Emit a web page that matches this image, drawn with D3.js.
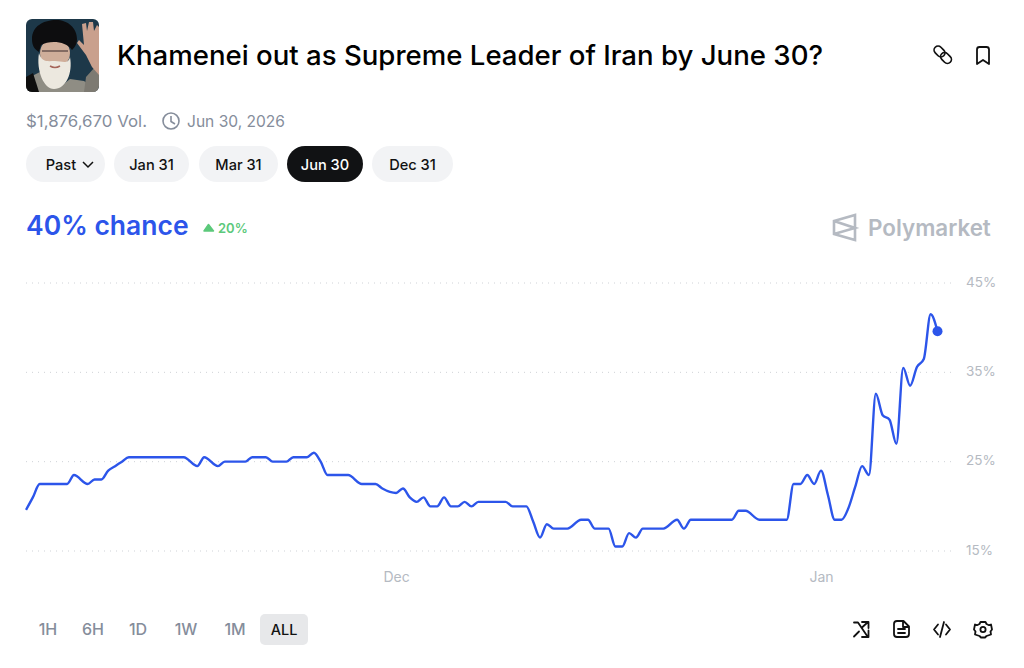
<!DOCTYPE html>
<html>
<head>
<meta charset="utf-8">
<script src="https://cdnjs.cloudflare.com/ajax/libs/d3/7.9.0/d3.min.js"></script>
<style>
  html, body { margin: 0; padding: 0; background: #fff; }
  svg { display: block; font-family: Inter, "Noto Sans", sans-serif; }
</style>
</head>
<body>
<div id="chart"></div>
<script>
"use strict";
// days counted from Dec 1
const days = [-27, -26.5, -26, -24, -23.5, -22.5, -22, -21.5, -21, -20.5, -20, -19.5, -15.5, -14.5, -14, -13, -12.5, -11, -10.5, -9.5, -9, -8, -7.5, -6.5, -6, -5.5, -5, -4, -3.5, -2.5, -1.5, -1, 0, 0.5, 1, 1.5, 2, 2.5, 3, 3.5, 4, 4.5, 5, 5.5, 6, 8, 8.5, 9.5, 10, 10.5, 11, 11.5, 12.5, 13.5, 14, 14.5, 15.5, 16, 16.5, 17, 17.5, 18, 19.5, 20.5, 21, 21.5, 24.5, 25, 25.5, 26.5, 28.5, 29, 29.5, 30, 30.5, 31, 31.5, 32, 32.5, 33, 33.5, 34, 34.5, 35, 35.5, 36, 36.5, 37, 37.5, 38, 38.5, 39, 39.5];
const chance = [19.6, 21, 22.5, 22.5, 23.5, 22.5, 23, 23, 24, 24.5, 25, 25.5, 25.5, 24.5, 25.5, 24.5, 25, 25, 25.5, 25.5, 25, 25, 25.5, 25.5, 26, 25, 23.5, 23.5, 23.5, 22.5, 22.5, 22, 21.5, 22, 21, 20.5, 21, 20, 20, 21, 20, 20, 20.5, 20, 20.5, 20.5, 20, 20, 18.3, 16.5, 18, 17.5, 17.5, 18.5, 18.5, 17.5, 17.5, 15.5, 15.5, 17, 16.5, 17.5, 17.5, 18.5, 17.5, 18.5, 18.5, 19.5, 19.5, 18.5, 18.5, 22.5, 22.5, 23.5, 22.5, 24, 21.3, 18.5, 18.5, 19.8, 22.2, 24.5, 23.5, 32.6, 30.2, 29.7, 27, 35.5, 33.5, 35.6, 36.5, 41.5, 39.6];
const yTicks = [15, 25, 35, 45];
const xTicks = [0, 31];
const xTickLabels = ["Dec", "Jan"];
const pills = ["Past", "Jan 31", "Mar 31", "Jun 30", "Dec 31"];
const pillEdges = [[26, 105], [114, 189], [199, 278], [287, 363], [372, 453]];
const ranges = ["1H", "6H", "1D", "1W", "1M", "ALL"];
const rangeCenters = [48, 93, 138, 186, 235, 284];

const width = 1024, height = 668;
const blue = "#2c55ea", grey = "#858d9b", light = "#b5bac2";

const svg = d3.select("#chart").append("svg")
    .attr("width", width)
    .attr("height", height)
    .attr("viewBox", [0, 0, width, height]);

// scales: Dec at 396, Jan at 821
const x = d3.scaleLinear().domain([-27, 39.5]).range([26, 937.5]);
const y = d3.scaleLinear().domain([15, 45]).range([551, 283]);

// avatar, there is no photo here so it is drawn from shapes
const avatar = svg.append("g").attr("transform", "translate(26,19)");
svg.append("clipPath").attr("id", "av").append("rect")
    .attr("width", 73).attr("height", 73).attr("rx", 6);
const av = avatar.append("g").attr("clip-path", "url(#av)");
av.append("rect").attr("width", 73).attr("height", 73).attr("fill", "#1d3849");
av.append("path").attr("d", "M0 73V62L8 56L16 52L24 68L34 68L44 60L58 62L73 73Z").attr("fill", "#8f8d84");
av.append("path").attr("d", "M0 73V58L7 54L13 73Z").attr("fill", "#0e0e0e");
av.append("path").attr("d", "M60 58L69 48L73 52V73H58Z").attr("fill", "#7d7a72");
av.append("ellipse").attr("cx", 29).attr("cy", 34).attr("rx", 15).attr("ry", 15).attr("fill", "#cfae9a");
av.append("path").attr("d", "M13 34C10 52 18 70 28 70C40 70 47 54 44 38C42 46 36 42 29 42C22 42 16 44 13 34Z").attr("fill", "#ece8df");
av.append("path").attr("d", "M6 20C6 7 18 1 30 1C42 1 51 9 51 20C51 26 48 29 46 31C40 22 24 21 15 26L13 33C8 30 6 26 6 20Z").attr("fill", "#0d0d0f");
av.append("path").attr("d", "M16 32H27M31 32H42M27 32H31").attr("stroke", "#6b5650").attr("stroke-width", 1.6);
av.append("path").attr("d", "M24 47Q29 50 34 47").attr("stroke", "#a5655a").attr("stroke-width", 1.5).attr("fill", "none");
av.append("path").attr("d", "M56 5L60 4L61 12L63 3L67 3L68 12L71 6L73 8V56L66 48L60 36L51 24L53 21L58 26Z").attr("fill", "#c9a08d");

// title and meta row
svg.append("text").attr("x", 117).attr("y", 65)
    .attr("font-size", 27).attr("font-weight", 500).attr("fill", "#000")
    .attr("textLength", 706).attr("lengthAdjust", "spacingAndGlyphs")
    .text("Khamenei out as Supreme Leader of Iran by June 30?");
svg.append("text").attr("x", 26).attr("y", 126.5)
    .attr("font-size", 16.5).attr("fill", grey)
    .attr("textLength", 121).attr("lengthAdjust", "spacingAndGlyphs").text("$1,876,670 Vol.");
const clock = svg.append("g").attr("fill", "none").attr("stroke", grey).attr("stroke-width", 1.6);
clock.append("circle").attr("cx", 171).attr("cy", 121).attr("r", 8);
clock.append("path").attr("d", "M171 116V121.5L175 124");
svg.append("text").attr("x", 187).attr("y", 126.5)
    .attr("font-size", 16.5).attr("fill", grey)
    .attr("textLength", 98).attr("lengthAdjust", "spacingAndGlyphs").text("Jun 30, 2026");

// link + bookmark
svg.append("g").attr("fill", "none").attr("stroke", "#111").attr("stroke-width", 1.7)
  .selectAll("rect").data([[933.5, 47.5], [940, 54]]).join("rect")
    .attr("x", d => d[0]).attr("y", d => d[1])
    .attr("width", 12).attr("height", 8).attr("rx", 4)
    .attr("transform", d => `rotate(45 ${d[0] + 6} ${d[1] + 4})`);
svg.append("path").attr("d", "M977 49.5Q977 47 979.5 47H986.5Q989 47 989 49.5V64L983 60L977 64Z")
    .attr("fill", "none").attr("stroke", "#111").attr("stroke-width", 1.8).attr("stroke-linejoin", "round");

// market pills
const pill = svg.append("g").selectAll("g").data(pills).join("g");
pill.append("rect")
    .attr("x", (d, i) => pillEdges[i][0])
    .attr("y", 146)
    .attr("width", (d, i) => pillEdges[i][1] - pillEdges[i][0])
    .attr("height", 36).attr("rx", 18)
    .attr("fill", d => d === "Jun 30" ? "#111214" : "#f2f3f5");
pill.append("text")
    .attr("x", (d, i) => d === "Past" ? 61 : (pillEdges[i][0] + pillEdges[i][1]) / 2)
    .attr("y", 169.5)
    .attr("text-anchor", "middle")
    .attr("font-size", 14.6).attr("font-weight", 500)
    .attr("fill", d => d === "Jun 30" ? "#fff" : "#111")
    .text(d => d);
svg.append("path").attr("d", "M83 162L88 167L93 162")
    .attr("fill", "none").attr("stroke", "#111").attr("stroke-width", 1.5);

// headline
svg.append("text").attr("x", 26).attr("y", 234.5)
    .attr("font-size", 26.5).attr("font-weight", 600).attr("fill", blue).text("40% chance");
svg.append("path").attr("d", "M208.5 224.5L213.5 231H204Z")
    .attr("fill", "#5cc97b").attr("stroke", "#5cc97b").attr("stroke-width", 1.5).attr("stroke-linejoin", "round");
svg.append("text").attr("x", 218).attr("y", 232.5)
    .attr("font-size", 13).attr("font-weight", 600).attr("fill", "#5cc97b").text("20%");

// logo
svg.append("path").attr("d", "M834 221L855 215V240L834 234ZM834 221L855 228L834 234")
    .attr("fill", "none").attr("stroke", light).attr("stroke-width", 2.6).attr("stroke-linejoin", "miter");
svg.append("text").attr("x", 868).attr("y", 236)
    .attr("font-size", 22.4).attr("font-weight", 600).attr("fill", light).text("Polymarket");

// grid + axes
svg.append("g").selectAll("line").data(yTicks).join("line")
    .attr("x1", 26).attr("x2", 955)
    .attr("y1", d => y(d)).attr("y2", d => y(d))
    .attr("stroke", "#cfd2d7").attr("stroke-width", 1).attr("stroke-dasharray", "1 5");

svg.append("g")
    .attr("transform", "translate(966,-1)")
    .call(d3.axisRight(y).tickValues(yTicks).tickSize(0).tickPadding(0).tickFormat(d => d + "%"))
    .call(g => g.select(".domain").remove())
    .call(g => g.selectAll("text").attr("font-family", "Inter").attr("font-size", 13.5).attr("fill", light));

svg.append("g")
    .attr("transform", "translate(0,572)")
    .call(d3.axisBottom(x).tickValues(xTicks).tickSize(0).tickPadding(0).tickFormat((d, i) => xTickLabels[i]))
    .call(g => g.select(".domain").remove())
    .call(g => g.selectAll("text").attr("font-family", "Inter").attr("font-size", 14).attr("fill", light));

// the line
const points = days.map((d, i) => [x(d), y(chance[i])]);
svg.append("path")
    .attr("d", d3.line().curve(d3.curveMonotoneX)(points))
    .attr("fill", "none")
    .attr("stroke", blue)
    .attr("stroke-width", 2.4)
    .attr("stroke-linejoin", "round");
svg.append("circle")
    .attr("cx", x(days[days.length - 1]))
    .attr("cy", y(chance[chance.length - 1]))
    .attr("r", 5)
    .attr("fill", blue);

// range buttons
svg.append("rect").attr("x", 260).attr("y", 614).attr("width", 48).attr("height", 31).attr("rx", 5).attr("fill", "#e7e8ea");
svg.append("g").selectAll("text").data(ranges).join("text")
    .attr("x", (d, i) => rangeCenters[i])
    .attr("y", 634.5)
    .attr("text-anchor", "middle")
    .attr("font-size", d => d === "ALL" ? 14.5 : 16).attr("font-weight", 500)
    .attr("fill", d => d === "ALL" ? "#111" : grey)
    .text(d => d);

// toolbar icons
const tools = svg.append("g").attr("fill", "none").attr("stroke", "#111").attr("stroke-width", 1.8)
    .attr("stroke-linecap", "round").attr("stroke-linejoin", "round");
tools.append("path").attr("d", "M854 622.5L858 622.5L867.5 636.5M854 636.5L859 631.5M862.5 627L868 622M862 622H868.5V628M868.5 630.5V637H862");
tools.append("path").attr("d", "M897 621H903.5L909 626.5V634Q909 637 906 637H897Q894 637 894 634V624Q894 621 897 621ZM903 621V627H909M898 629H905M898 633H905");
tools.append("path").attr("d", "M938 624.5L934 629.5L938 634.5M946 624.5L950 629.5L946 634.5M944 622L940 637");
tools.append("circle").attr("cx", 983).attr("cy", 629.5).attr("r", 2.6);
tools.append("path").attr("d", "M980.5 622H985.5L986.5 624L989 625.2L991 624.5L992 629.5L990.5 631.5L991 634.5L986.5 636L985 637.5H981L979.5 636L975 634.5L975.5 631.5L974 629.5L975 624.5L977 625.2L979.5 624Z");
</script>
</body>
</html>
